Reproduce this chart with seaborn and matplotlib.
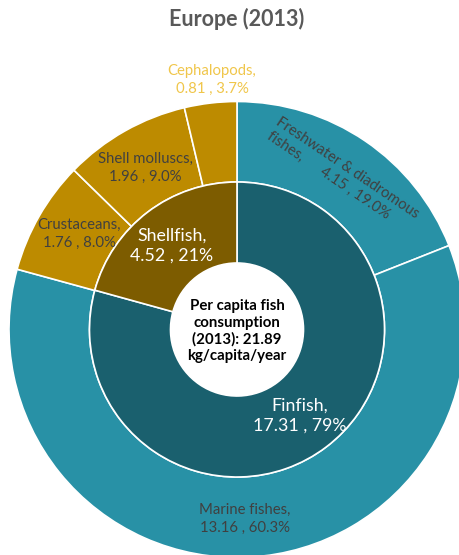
import matplotlib
matplotlib.use("Agg")
import matplotlib.pyplot as plt
import seaborn as sns

# Per-capita fish consumption, Europe 2013 (kg/capita/year)
groups = ["Finfish", "Shellfish"]
group_values = [17.31, 4.52]
group_pct = ["79%", "21%"]

species = ["Freshwater & diadromous fishes", "Marine fishes", "Crustaceans",
           "Shell molluscs", "Cephalopods"]
species_values = [4.15, 13.16, 1.76, 1.96, 0.81]
species_pct = ["19.0%", "60.3%", "8.0%", "9.0%", "3.7%"]

total_label = "Per capita fish\nconsumption\n(2013): 21.89\nkg/capita/year"

sns.set_theme(style="white")
plt.rcParams["font.family"] = ["Lato", "DejaVu Sans"]

inner_colors = ["#1a606e", "#7d5c00"]
outer_colors = ["#2891a6", "#2891a6", "#bd8b00", "#bd8b00", "#bd8b00"]

W, H = 459, 555
fig = plt.figure(figsize=(W / 100, H / 100), dpi=100)
ax = fig.add_axes([0, 0, 1, 1])

cx, cy = 237, H - 329.5
r_out, r_mid, r_hole = 228, 147.5, 66.5

ax.pie(species_values, colors=outer_colors, radius=r_out, center=(cx, cy),
       startangle=90, counterclock=False, frame=True,
       wedgeprops=dict(width=r_out - r_mid, edgecolor="white", linewidth=1.2))
ax.pie(group_values, colors=inner_colors, radius=r_mid, center=(cx, cy),
       startangle=90, counterclock=False, frame=True,
       wedgeprops=dict(width=r_mid - r_hole, edgecolor="white", linewidth=1.2))
ax.set_xlim(0, W)
ax.set_ylim(0, H)
ax.set_aspect("equal")
ax.axis("off")


def px(x, y):
    return x, H - y


dark = "#404040"
outer_fs = 10.7

ax.text(*px(237, 19), "Europe (2013)", ha="center", va="center",
        fontsize=15.5, fontweight="bold", color="#595959")

# outer ring labels
ax.text(*px(212, 80), f"{species[4]},\n{species_values[4]:.2f} , {species_pct[4]}",
        ha="center", va="center", fontsize=outer_fs, color="#f0c64a", linespacing=1.3)
ax.text(*px(145, 168), f"{species[3]},\n{species_values[3]:.2f} , {species_pct[3]}",
        ha="center", va="center", fontsize=outer_fs, color=dark, linespacing=1.3)
ax.text(*px(79, 234), f"{species[2]},\n{species_values[2]:.2f} , {species_pct[2]}",
        ha="center", va="center", fontsize=outer_fs, color=dark, linespacing=1.3)
ax.text(*px(245, 519), f"{species[1]},\n{species_values[1]:.2f} , {species_pct[1]}",
        ha="center", va="center", fontsize=outer_fs, color=dark, linespacing=1.3)
fw_words = species[0].rsplit(" ", 1)
ax.text(*px(343, 175),
        f"{fw_words[0]}\n{fw_words[1]},      {species_values[0]:.2f} , {species_pct[0]}",
        ha="center", va="center", rotation=-34, rotation_mode="anchor",
        fontsize=outer_fs, color=dark, linespacing=1.3, multialignment="left")

# inner ring labels
ax.text(*px(172, 246), f"{groups[1]},\n{group_values[1]:.2f} , {group_pct[1]}",
        ha="center", va="center", fontsize=12.8, color="white", linespacing=1.3)
ax.text(*px(300, 416), f"{groups[0]},\n{group_values[0]:.2f} , {group_pct[0]}",
        ha="center", va="center", fontsize=12.8, color="white", linespacing=1.3)

# centre total
ax.text(*px(237, 331), total_label, ha="center", va="center", fontsize=10.8,
        fontweight="bold", color="black", linespacing=1.2)

fig.savefig("out.png", dpi=100, facecolor="white")
